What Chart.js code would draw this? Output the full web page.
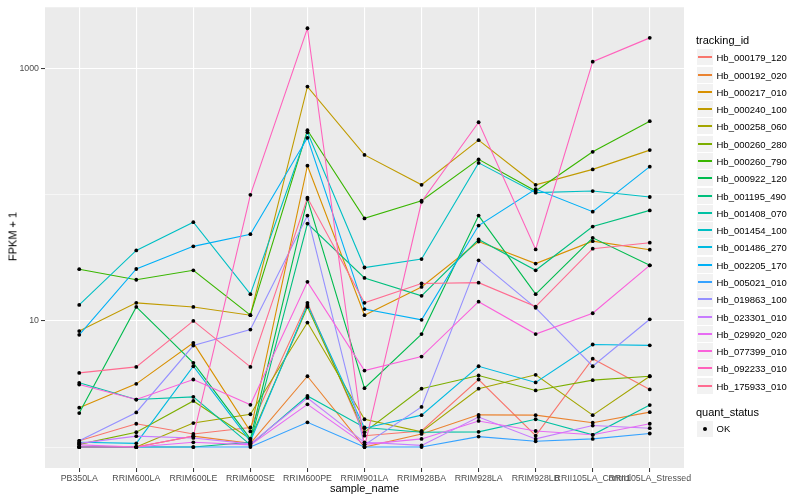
<!DOCTYPE html>
<html><head><meta charset="utf-8">
<script src="https://cdn.jsdelivr.net/npm/chart.js@4.4.1/dist/chart.umd.min.js"></script>
<style>
html,body{margin:0;padding:0;background:#fff;}
#wrap{position:relative;width:800px;height:500px;font-family:"Liberation Sans",Arial,Helvetica,sans-serif;overflow:hidden;}
canvas{position:absolute;left:0;top:0;}
.t{position:absolute;white-space:nowrap;color:#000;line-height:1;}
</style></head><body>
<div id="wrap"><canvas id="c" width="800" height="500"></canvas></div>
<script>
const categories = ["PB350LA","RRIM600LA","RRIM600LE","RRIM600SE","RRIM600PE","RRIM901LA","RRIM928BA","RRIM928LA","RRIM928LB","RRII105LA_Control","RRII105LA_Stressed"];
const seriesNames = ["Hb_000179_120","Hb_000192_020","Hb_000217_010","Hb_000240_100","Hb_000258_060","Hb_000260_280","Hb_000260_790","Hb_000922_120","Hb_001195_490","Hb_001408_070","Hb_001454_100","Hb_001486_270","Hb_002205_170","Hb_005021_010","Hb_019863_100","Hb_023301_010","Hb_029920_020","Hb_077399_010","Hb_092233_010","Hb_175933_010"];
const seriesColors = ["#F8766D","#EA8331","#D89000","#C09B00","#A3A500","#7CAE00","#39B600","#00BB4E","#00BF7D","#00C1A3","#00BFC4","#00BAE0","#00B0F6","#35A2FF","#9590FF","#C77CFF","#E76BF3","#FA62DB","#FF62BC","#FF6C91"];
const yTickValues = [1, 10, 100, 1000];
const yTickLabels = ["", "10", "", "1000"];

// FPKM + 1 per sample, one array per tracking_id
const hb_000179_120 = [1.12, 1.53, 1.27, 1.43, 13.9, 1.23, 1.34, 3.43, 1.23, 5.02, 2.86];
const hb_000192_020 = [1.0, 1.0, 1.22, 1.07, 3.64, 1.0, 1.27, 1.8, 1.79, 1.56, 1.89];
const hb_000217_010 = [2.05, 3.17, 6.7, 1.33, 170, 11.1, 18.6, 42.6, 28.5, 42.9, 36.7];
const hb_000240_100 = [8.3, 13.9, 12.9, 11.1, 721, 207, 120, 271, 120, 159, 226];
const hb_000258_060 = [1.0, 1.0, 1.55, 1.82, 9.7, 1.66, 1.32, 2.9, 3.74, 1.79, 3.64];
const hb_000260_280 = [1.05, 1.31, 2.32, 1.16, 12.9, 1.31, 2.9, 3.69, 2.81, 3.39, 3.64];
const hb_000260_790 = [25.7, 21.2, 25.2, 11.1, 325, 65, 89.7, 191, 107, 219, 383];
const hb_000922_120 = [1.86, 12.9, 4.65, 1.16, 92.5, 2.93, 7.86, 68.4, 16.3, 45.6, 27.6];
const hb_001195_490 = [1.0, 1.0, 1.0, 1.09, 59.1, 21.9, 15.8, 44.2, 25.2, 56, 75.2];
const hb_001408_070 = [3.23, 2.38, 2.5, 1.04, 2.54, 1.43, 1.31, 1.32, 1.66, 1.25, 2.15];
const hb_001454_100 = [13.4, 36.2, 60.6, 16.3, 313, 26.5, 30.9, 179, 104, 107, 96];
const hb_001486_270 = [1.09, 1.07, 4.37, 1.11, 13.4, 1.41, 1.79, 4.37, 3.25, 6.5, 6.4];
const hb_002205_170 = [7.76, 25.8, 39, 48.7, 283, 12.4, 10.2, 57, 111, 73.5, 167];
const hb_005021_010 = [1.0, 1.0, 1.0, 1.0, 1.57, 1.0, 1.0, 1.21, 1.11, 1.16, 1.28];
const hb_019863_100 = [1.12, 1.88, 6.38, 8.54, 68.4, 1.04, 2.08, 30.2, 12.7, 4.37, 10.3];
const hb_023301_010 = [1.07, 1.22, 1.18, 1.06, 2.45, 1.09, 1.03, 1.73, 1.16, 1.48, 1.41];
const hb_029920_020 = [1.04, 1.0, 1.09, 1.04, 2.18, 1.05, 1.16, 1.61, 1.34, 1.25, 1.53];
const hb_077399_010 = [3.13, 2.38, 3.43, 2.16, 20.4, 4.04, 5.21, 14.2, 7.86, 11.5, 27.6];
const hb_092233_010 = [1.0, 1.0, 1.22, 100, 2090, 1.0, 88, 376, 36.9, 1135, 1754];
const hb_175933_010 = [3.87, 4.32, 10.0, 4.32, 94.7, 13.9, 19.8, 20.1, 13.0, 37.4, 41.7];

const seriesValues = [hb_000179_120, hb_000192_020, hb_000217_010, hb_000240_100, hb_000258_060, hb_000260_280, hb_000260_790, hb_000922_120, hb_001195_490, hb_001408_070, hb_001454_100, hb_001486_270, hb_002205_170, hb_005021_010, hb_019863_100, hb_023301_010, hb_029920_020, hb_077399_010, hb_092233_010, hb_175933_010];

const FONT = '"Liberation Sans", Arial, Helvetica, sans-serif';

const panelBg = {
  id: 'panelBg',
  beforeDraw(chart) {
    const {ctx, chartArea: a} = chart;
    ctx.save();
    ctx.fillStyle = '#EBEBEB';
    ctx.fillRect(a.left, a.top, a.right - a.left, a.bottom - a.top);
    ctx.restore();
  }
};

const lineSets = seriesNames.map((name, i) => ({
  label: name,
  data: seriesValues[i].map((v, j) => ({x: j, y: v})),
  showLine: true,
  borderColor: seriesColors[i],
  backgroundColor: seriesColors[i],
  borderWidth: 1.1,
  pointRadius: 0,
  pointHoverRadius: 0,
  tension: 0,
  fill: false,
  order: 100 - i
}));
const pointSet = {
  label: 'OK',
  data: seriesValues.flatMap(vals => vals.map((v, j) => ({x: j, y: v}))),
  showLine: false,
  pointRadius: 1.9,
  pointBackgroundColor: '#000',
  pointBorderColor: '#000',
  pointBorderWidth: 0,
  order: 0
};

const isMajor = v => v === 10 || v === 1000;

new Chart(document.getElementById('c'), {
  type: 'scatter',
  data: { datasets: [pointSet, ...lineSets] },
  plugins: [panelBg],
  options: {
    responsive: false,
    animation: false,
    devicePixelRatio: 1,
    layout: { padding: { left: 5, right: 116, top: 5, bottom: 0 } },
    plugins: { legend: { display: false }, tooltip: { enabled: false } },
    scales: {
      x: {
        type: 'linear', min: -0.6, max: 10.6,
        afterBuildTicks: s => { s.ticks = categories.map((_, i) => ({value: i})); },
        afterFit: s => { s.height = 32; },
        grid: { color: '#FFFFFF', lineWidth: 1.1, drawTicks: true, tickLength: 4, tickColor: '#333333', tickWidth: 1 },
        border: { display: false },
        ticks: { autoSkip: false, maxRotation: 0, minRotation: 0, padding: 1, color: '#4D4D4D',
          font: { size: 8.8, family: FONT }, callback: v => categories[v] ?? '' }
      },
      y: {
        type: 'logarithmic', min: 0.682, max: 3066,
        afterBuildTicks: s => { s.ticks = yTickValues.map(v => ({value: v})); },
        afterFit: s => { s.width = 40; },
        grid: { color: '#FFFFFF',
          lineWidth: c => (c.tick && isMajor(c.tick.value)) ? 1.1 : 0.55,
          tickLength: 4, tickWidth: 1,
          tickColor: c => (c.tick && isMajor(c.tick.value)) ? '#333333' : 'rgba(0,0,0,0)' },
        border: { display: false },
        ticks: { padding: 2, color: '#4D4D4D', font: { size: 8.8, family: FONT },
          callback: v => { const k = yTickValues.indexOf(v); return k >= 0 ? yTickLabels[k] : ''; } }
      }
    }
  }
});

// ggplot-style legend and axis titles as text
const wrap = document.getElementById('wrap');
function addText(txt, x, cy, size, opts = {}) {
  const d = document.createElement('div');
  d.className = 't';
  d.textContent = txt;
  d.style.fontSize = size + 'px';
  d.style.left = x + 'px';
  d.style.top = (cy - size / 2) + 'px';
  if (opts.center) { d.style.transform = 'translateX(-50%)'; }
  if (opts.rotate) { d.style.transform = 'translate(-50%,0) rotate(-90deg)'; d.style.transformOrigin = '50% 50%'; }
  if (opts.color) d.style.color = opts.color;
  wrap.appendChild(d);
  return d;
}
function addBox(x, y, w, h, bg) {
  const d = document.createElement('div');
  d.style.position = 'absolute';
  d.style.left = Math.round(x) + 'px'; d.style.top = Math.round(y) + 'px';
  d.style.width = Math.round(w) + 'px'; d.style.height = Math.round(h) + 'px';
  d.style.background = bg;
  wrap.appendChild(d);
  return d;
}
addText('FPKM + 1', 13, 236.5, 11, {rotate: true});
addText('sample_name', 364.5, 488, 11, {center: true});

addText('tracking_id', 696, 40.7, 11);
const rowH = 17.28, row0 = 57.3;
seriesNames.forEach((name, i) => {
  const cy = Math.round(row0 + i * rowH);
  addBox(697, cy - 8, 16, 16, '#F2F2F2');
  addBox(698, cy - 1, 14, 2, seriesColors[i]);
  addText(name, 716.5, cy + 0.5, 9.5);
});
addText('quant_status', 696, 412.3, 11);
addBox(697, 429 - 8, 16, 16, '#F2F2F2');
const dot = addBox(703, 427, 4, 4, '#000');
dot.style.borderRadius = '50%';
addText('OK', 716.5, 429, 9.5);
</script>
</body></html>
